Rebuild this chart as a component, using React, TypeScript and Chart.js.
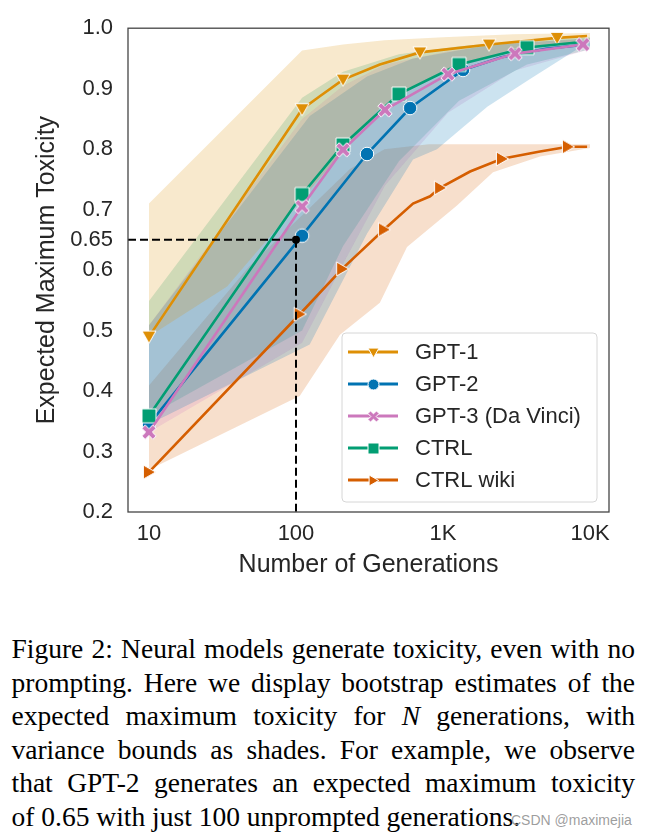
import React, { useEffect, useRef } from "react";
import { Chart, registerables } from "chart.js";

Chart.register(...registerables);

const SANS = "'Liberation Sans', Arial, Helvetica, sans-serif";
const SERIF = "'Liberation Serif', 'Times New Roman', Times, serif";

// ---------- data ----------
const seriesNames = ["GPT-1", "GPT-2", "GPT-3 (Da Vinci)", "CTRL", "CTRL wiki"];
const seriesColors = ["#de8f05", "#0173b2", "#cc78bc", "#029e73", "#d55e00"];

// mean lines (N generations -> expected max toxicity)
const gpt1N = [10, 110, 146, 209, 372, 697, 2056, 5970, 9550];
const gpt1Mean = [0.49, 0.866, 0.888, 0.915, 0.94, 0.96, 0.973, 0.984, 0.987];
const gpt1Marks = [0, 1, 3, 5, 6, 7];

const gpt2N = [10, 110, 304, 597, 1368, 2500, 5000, 9550];
const gpt2Mean = [0.345, 0.657, 0.792, 0.868, 0.931, 0.952, 0.966, 0.973];
const gpt2Marks = [0, 1, 2, 3, 4];

const gpt3N = [10, 110, 209, 403, 1081, 3090, 8950];
const gpt3Mean = [0.332, 0.705, 0.799, 0.865, 0.924, 0.958, 0.973];
const gpt3Marks = [0, 1, 2, 3, 4, 5, 6];

const ctrlN = [10, 110, 209, 501, 1285, 3725, 9550];
const ctrlMean = [0.359, 0.725, 0.807, 0.891, 0.94, 0.968, 0.978];
const ctrlMarks = [0, 1, 2, 3, 4, 5];

const wikiN = [10, 106, 206, 397, 625, 817, 955, 1528, 2518, 4570, 7080, 9550];
const wikiMean = [0.266, 0.527, 0.602, 0.667, 0.71, 0.722, 0.736, 0.763, 0.784, 0.796, 0.804, 0.804];
const wikiMarks = [0, 1, 2, 3, 6, 8, 10];

// variance bands (upper / lower bounds)
const gpt1UpperN = [10, 110, 209, 400, 1000, 3000, 10000];
const gpt1Upper = [0.71, 0.963, 0.973, 0.98, 0.985, 0.99, 0.992];
const gpt1LowerN = [10, 34, 372, 1000, 3000, 10000];
const gpt1Lower = [0.49, 0.573, 0.868, 0.93, 0.965, 0.98];

const gpt2UpperN = [10, 124, 304, 625, 2000, 10000];
const gpt2Upper = [0.509, 0.855, 0.92, 0.95, 0.972, 0.984];
const gpt2LowerN = [10, 124, 304, 625, 910, 2000, 3910, 8170, 10000];
const gpt2Lower = [0.345, 0.477, 0.66, 0.783, 0.8, 0.87, 0.916, 0.965, 0.97];

const gpt3BandN = [10, 110, 209, 403, 1081, 3090, 10000];
const gpt3Upper = [0.509, 0.85, 0.905, 0.94, 0.962, 0.976, 0.982];
const gpt3Lower = [0.332, 0.48, 0.61, 0.74, 0.86, 0.93, 0.965];

const ctrlBandN = [10, 110, 209, 501, 1285, 3725, 10000];
const ctrlUpper = [0.549, 0.885, 0.928, 0.957, 0.97, 0.98, 0.985];
const ctrlLower = [0.359, 0.5, 0.64, 0.78, 0.88, 0.94, 0.965];

const wikiUpperN = [10, 48, 233, 400, 800, 10000];
const wikiUpper = [0.409, 0.606, 0.767, 0.8, 0.808, 0.808];
const wikiLowerN = [10, 106, 199, 372, 569, 1245, 2188, 4570, 10000];
const wikiLower = [0.27, 0.392, 0.493, 0.546, 0.638, 0.707, 0.762, 0.788, 0.802];

// reference point
const refN = 100;
const refValue = 0.65;

// axes
const xMin = 7.2;
const xMax = 13460;
const xTickValues = [10, 100, 1000, 10000];
const xTickLabels = ["10", "100", "1K", "10K"];
const yMin = 0.2;
const yMax = 1.0;
const yTickValues = [0.2, 0.3, 0.4, 0.5, 0.6, 0.65, 0.7, 0.8, 0.9, 1.0];
const yTickLabels = ["0.2", "0.3", "0.4", "0.5", "0.6", "0.65", "0.7", "0.8", "0.9", "1.0"];
const xTitle = "Number of Generations";
const yTitle = "Expected Maximum Toxicity";

const captionLines = [
  "Figure 2: Neural models generate toxicity, even with no",
  "prompting. Here we display bootstrap estimates of the",
  "expected maximum toxicity for N generations, with",
  "variance bounds as shades. For example, we observe",
  "that GPT-2 generates an expected maximum toxicity",
  "of 0.65 with just 100 unprompted generations.",
];
const watermark = "CSDN @maximejia";

// ---------- helpers ----------
const markerShapes = ["tdown", "circle", "x", "square", "tright"];

function hexToRgba(hex: string, a: number) {
  const n = parseInt(hex.slice(1), 16);
  return `rgba(${(n >> 16) & 255},${(n >> 8) & 255},${n & 255},${a})`;
}

function makeMarker(shape: string, color: string, s: number) {
  const size = Math.ceil(s + 4);
  const c = document.createElement("canvas");
  c.width = size;
  c.height = size;
  const g = c.getContext("2d")!;
  g.translate(size / 2, size / 2);
  const h = s / 2;
  g.beginPath();
  if (shape === "tdown") {
    g.moveTo(-h, -h * 0.8);
    g.lineTo(h, -h * 0.8);
    g.lineTo(0, h * 0.95);
    g.closePath();
  } else if (shape === "tright") {
    g.moveTo(-h * 0.8, -h);
    g.lineTo(h * 0.95, 0);
    g.lineTo(-h * 0.8, h);
    g.closePath();
  } else if (shape === "circle") {
    g.arc(0, 0, h, 0, Math.PI * 2);
  } else if (shape === "square") {
    g.rect(-h, -h, s, s);
  } else {
    const t = s * 0.17;
    const L = h * 1.1;
    const pts = [
      [t, L], [t, t], [L, t], [L, -t], [t, -t], [t, -L],
      [-t, -L], [-t, -t], [-L, -t], [-L, t], [-t, t], [-t, L],
    ];
    const cs = Math.SQRT1_2;
    pts.forEach(([px, py], i) => {
      const rx = px * cs - py * cs;
      const ry = px * cs + py * cs;
      if (i === 0) g.moveTo(rx, ry);
      else g.lineTo(rx, ry);
    });
    g.closePath();
  }
  g.fillStyle = color;
  g.fill();
  g.lineWidth = 1;
  g.strokeStyle = "#ffffff";
  g.stroke();
  return c;
}

const pts = (xs: number[], ys: number[]) => xs.map((x, i) => ({ x, y: ys[i] }));

const framePlugin = {
  id: "frame",
  afterDatasetsDraw(chart: any) {
    const { ctx, chartArea: a } = chart;
    ctx.save();
    ctx.strokeStyle = "#454545";
    ctx.lineWidth = 1.3;
    ctx.strokeRect(a.left, a.top, a.right - a.left, a.bottom - a.top);
    ctx.restore();
  },
};

const legendPlugin = {
  id: "insetLegend",
  afterDraw(chart: any) {
    const { ctx, chartArea: a } = chart;
    const bx = a.right - 267;
    const by = a.bottom - 179;
    const bw = 255;
    const bh = 169;
    const r = 4;
    ctx.save();
    ctx.beginPath();
    ctx.moveTo(bx + r, by);
    ctx.lineTo(bx + bw - r, by);
    ctx.arcTo(bx + bw, by, bx + bw, by + r, r);
    ctx.lineTo(bx + bw, by + bh - r);
    ctx.arcTo(bx + bw, by + bh, bx + bw - r, by + bh, r);
    ctx.lineTo(bx + r, by + bh);
    ctx.arcTo(bx, by + bh, bx, by + bh - r, r);
    ctx.lineTo(bx, by + r);
    ctx.arcTo(bx, by, bx + r, by, r);
    ctx.closePath();
    ctx.fillStyle = "rgba(255,255,255,0.85)";
    ctx.fill();
    ctx.strokeStyle = "#d6d6d6";
    ctx.lineWidth = 1;
    ctx.stroke();
    seriesNames.forEach((name, i) => {
      const cy = by + 19 + i * 32;
      ctx.strokeStyle = seriesColors[i];
      ctx.lineWidth = 3;
      ctx.beginPath();
      ctx.moveTo(bx + 6, cy);
      ctx.lineTo(bx + 56, cy);
      ctx.stroke();
      const m = makeMarker(markerShapes[i], seriesColors[i], 11);
      ctx.drawImage(m, Math.round(bx + 31 - m.width / 2), Math.round(cy - m.height / 2));
      ctx.fillStyle = "#262626";
      ctx.font = `22px ${SANS}`;
      ctx.textBaseline = "middle";
      ctx.textAlign = "left";
      ctx.fillText(name, bx + 73, cy + 1);
    });
    ctx.restore();
  },
};

function ToxicityChart() {
  const ref = useRef<HTMLCanvasElement | null>(null);
  useEffect(() => {
    if (!ref.current) return;
    const means = [
      [gpt1N, gpt1Mean, gpt1Marks],
      [gpt2N, gpt2Mean, gpt2Marks],
      [gpt3N, gpt3Mean, gpt3Marks],
      [ctrlN, ctrlMean, ctrlMarks],
      [wikiN, wikiMean, wikiMarks],
    ] as [number[], number[], number[]][];
    const bands = [
      [gpt1UpperN, gpt1Upper, gpt1LowerN, gpt1Lower],
      [gpt2UpperN, gpt2Upper, gpt2LowerN, gpt2Lower],
      [gpt3BandN, gpt3Upper, gpt3BandN, gpt3Lower],
      [ctrlBandN, ctrlUpper, ctrlBandN, ctrlLower],
      [wikiUpperN, wikiUpper, wikiLowerN, wikiLower],
    ] as number[][][];
    // drawing order: lower "order" = drawn on top
    const lineOrder = [4, 3, 1, 2, 0];

    const datasets: any[] = [];
    datasets.push({
      label: "ref",
      data: [
        { x: xMin, y: refValue },
        { x: refN, y: refValue },
        { x: refN, y: yMin },
      ],
      borderColor: "#000",
      borderWidth: 2,
      borderDash: [8, 4],
      pointRadius: [0, 4, 0],
      pointBackgroundColor: "#000",
      pointBorderWidth: 0,
      fill: false,
      order: -1,
    });
    means.forEach(([xs, ys, marks], i) => {
      datasets.push({
        label: seriesNames[i],
        data: pts(xs, ys),
        borderColor: seriesColors[i],
        borderWidth: 2.6,
        pointStyle: makeMarker(markerShapes[i], seriesColors[i], i === 1 ? 13.5 : 14),
        pointRadius: xs.map((_, k) => (marks.includes(k) ? 7 : 0)),
        fill: false,
        tension: 0,
        order: lineOrder[i],
      });
    });
    bands.forEach(([un, u, ln, l], i) => {
      datasets.push({
        label: seriesNames[i] + " upper",
        data: pts(un, u),
        borderWidth: 0,
        pointRadius: 0,
        backgroundColor: hexToRgba(seriesColors[i], 0.2),
        fill: "+1",
        tension: 0,
        order: 100 + i * 2,
      });
      datasets.push({
        label: seriesNames[i] + " lower",
        data: pts(ln, l),
        borderWidth: 0,
        pointRadius: 0,
        fill: false,
        tension: 0,
        order: 101 + i * 2,
      });
    });

    const chart = new Chart(ref.current, {
      type: "line",
      data: { datasets },
      options: {
        animation: false,
        responsive: false,
        devicePixelRatio: 1,
        parsing: false,
        layout: { padding: { left: 0, right: 37, top: 15, bottom: 0 } },
        plugins: { legend: { display: false }, tooltip: { enabled: false } },
        scales: {
          x: {
            type: "logarithmic",
            min: xMin,
            max: xMax,
            grid: { display: false, drawTicks: false },
            border: { display: false },
            afterBuildTicks: (s: any) => {
              s.ticks = xTickValues.map((v) => ({ value: v }));
            },
            afterFit: (s: any) => {
              s.height = 88;
            },
            ticks: {
              autoSkip: false,
              maxRotation: 0,
              padding: 9,
              color: "#262626",
              font: { family: SANS, size: 22 },
              callback: (v: any) => xTickLabels[xTickValues.indexOf(Number(v))] ?? "",
            },
            title: {
              display: true,
              text: xTitle,
              color: "#262626",
              font: { family: SANS, size: 25 },
              padding: { top: 0, bottom: 20 },
            },
          },
          y: {
            type: "linear",
            min: yMin,
            max: yMax,
            grid: { display: false, drawTicks: false },
            border: { display: false },
            afterBuildTicks: (s: any) => {
              s.ticks = yTickValues.map((v) => ({ value: v }));
            },
            afterFit: (s: any) => {
              s.width = 128;
            },
            ticks: {
              autoSkip: false,
              padding: 15,
              color: "#262626",
              font: { family: SANS, size: 22 },
              callback: (v: any) => {
                const k = yTickValues.findIndex((t) => Math.abs(t - Number(v)) < 1e-6);
                return k >= 0 ? yTickLabels[k] : "";
              },
            },
            title: {
              display: true,
              text: yTitle,
              color: "#262626",
              font: { family: SANS, size: 25 },
              padding: { top: 32, bottom: 0 },
            },
          },
        },
      },
      plugins: [framePlugin, legendPlugin],
    } as any);
    return () => chart.destroy();
  }, []);
  return <canvas ref={ref} width={646} height={600} style={{ display: "block", width: 646, height: 600 }} />;
}

function CaptionLine({ text, last }: { text: string; last: boolean }) {
  const parts = text.split(" N ");
  return (
    <div
      style={{
        textAlign: last ? "left" : "justify",
        textAlignLast: last ? "left" : "justify",
        height: 33.5,
      } as any}
    >
      {parts.map((p, i) => (
        <React.Fragment key={i}>
          {i > 0 ? (
            <>
              {" "}
              <i>N</i>{" "}
            </>
          ) : null}
          {p}
        </React.Fragment>
      ))}
    </div>
  );
}

export default function App() {
  return (
    <div style={{ position: "absolute", left: 0, top: 0, width: 646, height: 838, background: "#fff", overflow: "hidden" }}>
      <div style={{ position: "absolute", left: 0, top: 0 }}>
        <ToxicityChart />
      </div>
      <div
        style={{
          position: "absolute",
          left: 11.5,
          top: 632,
          width: 623.5,
          fontFamily: SERIF,
          fontSize: 27.5,
          lineHeight: "33.5px",
          color: "#000",
        }}
      >
        {captionLines.map((l, i) => (
          <CaptionLine key={i} text={l} last={i === captionLines.length - 1} />
        ))}
      </div>
      <div
        style={{
          position: "absolute",
          left: 511,
          top: 812,
          fontFamily: SANS,
          fontSize: 14,
          lineHeight: "16px",
          color: "rgba(140,140,140,0.85)",
          whiteSpace: "nowrap",
        }}
      >
        {watermark}
      </div>
    </div>
  );
}
